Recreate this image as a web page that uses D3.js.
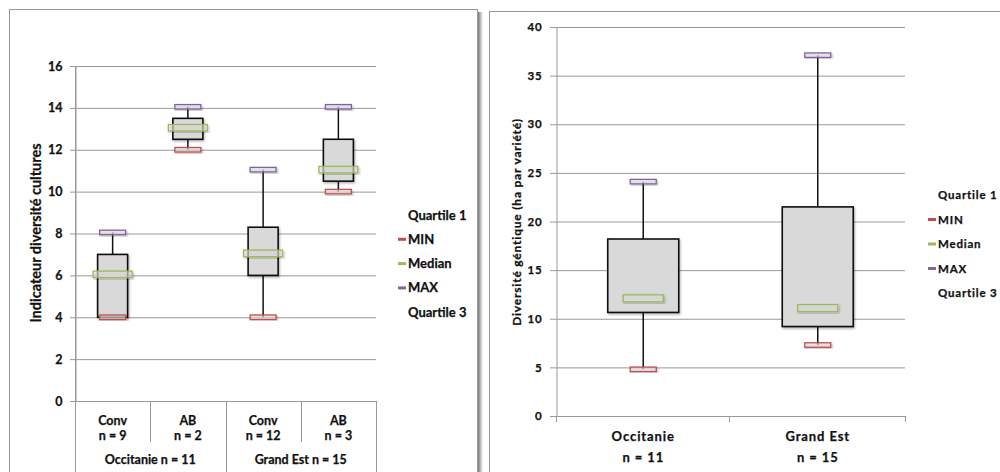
<!DOCTYPE html>
<html><head><meta charset="utf-8">
<script src="https://cdn.jsdelivr.net/npm/d3@7"></script>
<style>
body{margin:0;background:#fff;}
svg{display:block;}
text{font-family:Lato,"Open Sans",sans-serif;font-weight:bold;fill:#111;stroke:#111;stroke-width:0.25px;}
</style></head>
<body>
<svg id="c" width="1000" height="472"></svg>
<script>
// ---------- Data: left chart ----------
const leftCategories = ["Conv", "AB", "Conv", "AB"];
const leftCounts = ["n = 9", "n = 2", "n = 12", "n = 3"];
const leftGroups = ["Occitanie n = 11", "Grand Est n = 15"];
const leftMin = [4, 12, 4, 10];
const leftQ1 = [4, 12.5, 6, 10.5];
const leftMedian = [6.05, 13.05, 7.05, 11.05];
const leftQ3 = [7, 13.5, 8.3, 12.5];
const leftMax = [8.05, 14.05, 11.05, 14.05];
const leftTicks = [0, 2, 4, 6, 8, 10, 12, 14, 16];
const leftTitle = "Indicateur diversité cultures";

// ---------- Data: right chart ----------
const rightCategories = ["Occitanie", "Grand Est"];
const rightCounts = ["n = 11", "n = 15"];
const rightMin = [4.8, 7.3];
const rightQ1 = [10.65, 9.2];
const rightMedian = [12.1, 11.1];
const rightQ3 = [18.2, 21.5];
const rightMax = [24.1, 37.1];
const rightTicks = [0, 5, 10, 15, 20, 25, 30, 35, 40];
const rightTitle = "Diversité géntique (ha par variété)";

const legendLabels = ["Quartile 1", "MIN", "Median", "MAX", "Quartile 3"];
const legendColors = [null, "#c0504d", "#9bbb59", "#8064a2", null];

const svg = d3.select("#c");
const defs = svg.append("defs");
const f = defs.append("filter").attr("id", "sh").attr("x", "-30%").attr("y", "-30%").attr("width", "160%").attr("height", "160%");
f.append("feDropShadow").attr("dx", 1).attr("dy", 1.5).attr("stdDeviation", 1.2).attr("flood-color", "#000").attr("flood-opacity", 0.3);
const g1 = defs.append("linearGradient").attr("id", "pshadow").attr("x1", 0).attr("x2", 1);
g1.append("stop").attr("offset", 0).attr("stop-color", "#777");
g1.append("stop").attr("offset", 1).attr("stop-color", "#fff");

// panels
svg.append("rect").attr("x", 478).attr("y", 12).attr("width", 5).attr("height", 470).attr("fill", "url(#pshadow)");
svg.append("rect").attr("x", 9.5).attr("y", 9.5).attr("width", 468).attr("height", 475).attr("fill", "#fff").attr("stroke", "#999");
svg.append("rect").attr("x", 489.5).attr("y", 11.5).attr("width", 520).attr("height", 475).attr("fill", "#fff").attr("stroke", "#999");

function drawBoxes(g, x, y, cats, mins, q1, med, q3, maxs, boxW, medW, mkW, medH, mkH) {
  const cx = i => x(i) + x.bandwidth() / 2;
  const idx = d3.range(cats.length);
  g.selectAll(".wl").data(idx).join("line")
    .attr("x1", cx).attr("x2", cx).attr("y1", i => y(mins[i])).attr("y2", i => y(q1[i]))
    .attr("stroke", "#111").attr("stroke-width", 1.5);
  g.selectAll(".wh").data(idx).join("line")
    .attr("x1", cx).attr("x2", cx).attr("y1", i => y(q3[i])).attr("y2", i => y(maxs[i]))
    .attr("stroke", "#111").attr("stroke-width", 1.5);
  g.selectAll(".bx").data(idx).join("rect")
    .attr("x", i => cx(i) - boxW / 2).attr("width", boxW)
    .attr("y", i => y(q3[i])).attr("height", i => y(q1[i]) - y(q3[i]))
    .attr("fill", "#d9d9d9").attr("stroke", "#111").attr("stroke-width", 1.6)
    .attr("filter", "url(#sh)");
  const marker = (vals, w, h, col) => {
    g.append("g").selectAll("rect").data(idx).join("rect")
      .attr("x", i => cx(i) - w / 2).attr("width", w)
      .attr("y", i => y(vals[i]) - h / 2).attr("height", h)
      .attr("fill", "rgba(225,225,225,0.6)").attr("stroke", col).attr("stroke-width", 1.3)
      .attr("filter", "url(#sh)");
  };
  marker(mins, mkW, mkH, "#c0504d");
  marker(med, medW, medH, "#9bbb59");
  marker(maxs, mkW, mkH, "#8064a2");
}

function legend(g, x0, y0, dy, fs, ls) {
  legendLabels.forEach((l, i) => {
    const yy = y0 + i * dy;
    g.append("text").attr("x", x0).attr("y", yy).attr("dy", "0.35em")
      .attr("font-size", fs).attr("letter-spacing", ls).text(l);
    if (legendColors[i]) {
      g.append("line").attr("x1", x0 - 10).attr("x2", x0 - 2).attr("y1", yy).attr("y2", yy)
        .attr("stroke", legendColors[i]).attr("stroke-width", 3);
    }
  });
}

// ---------- Left chart ----------
{
  const g = svg.append("g");
  const x = d3.scaleBand().domain(d3.range(leftCategories.length)).range([75, 376]).padding(0);
  const y = d3.scaleLinear().domain([0, 16]).range([401, 66]);
  g.selectAll(".gr").data(leftTicks).join("line")
    .attr("x1", 70).attr("x2", 376).attr("y1", d => y(d) + 0.5).attr("y2", d => y(d) + 0.5)
    .attr("stroke", "#999").attr("stroke-width", 1);
  const ax = g.append("g").attr("transform", "translate(75.5,0)")
    .call(d3.axisLeft(y).tickValues(leftTicks).tickSize(0).tickPadding(13));
  ax.select(".domain").attr("stroke", "#999");
  ax.selectAll("text").attr("font-size", 12.5).attr("font-family", "Lato").attr("font-weight", "bold").attr("fill", "#111");
  g.append("line").attr("x1", 75.5).attr("x2", 75.5).attr("y1", 66).attr("y2", 472).attr("stroke", "#999");
  const seps = d3.range(leftCategories.length + 1);
  g.selectAll(".sep").data(seps).join("line")
    .attr("x1", i => Math.round(i < leftCategories.length ? x(i) : 376) + 0.5)
    .attr("x2", i => Math.round(i < leftCategories.length ? x(i) : 376) + 0.5)
    .attr("y1", 401).attr("y2", i => (i % 2 === 0 ? 472 : 442))
    .attr("stroke", "#999");
  leftCategories.forEach((c, i) => {
    const cx = x(i) + x.bandwidth() / 2;
    g.append("text").attr("x", cx).attr("y", 421).attr("dy", "0.35em").attr("text-anchor", "middle").attr("font-size", 12.5).text(c);
    g.append("text").attr("x", cx).attr("y", 436).attr("dy", "0.35em").attr("text-anchor", "middle").attr("font-size", 12.5).text(leftCounts[i]);
  });
  leftGroups.forEach((t, k) => {
    const cx = (x(k * 2) + x(k * 2 + 1) + x.bandwidth()) / 2;
    g.append("text").attr("x", cx).attr("y", 460).attr("dy", "0.35em").attr("text-anchor", "middle").attr("font-size", 12.5).text(t);
  });
  g.append("text").attr("transform", "translate(36,233) rotate(-90)").attr("text-anchor", "middle")
    .attr("dy", "0.35em").attr("font-size", 14.5).text(leftTitle);
  drawBoxes(g, x, y, leftCategories, leftMin, leftQ1, leftMedian, leftQ3, leftMax, 30, 39, 26, 6.5, 4.5);
  legend(g, 408, 215, 24.3, 13, 0);
}

// ---------- Right chart ----------
{
  const g = svg.append("g");
  const x = d3.scaleBand().domain(d3.range(rightCategories.length)).range([556, 905]).padding(0);
  const y = d3.scaleLinear().domain([0, 40]).range([416, 27]);
  g.selectAll(".gr").data(rightTicks).join("line")
    .attr("x1", 550).attr("x2", 905).attr("y1", d => y(d) + 0.5).attr("y2", d => y(d) + 0.5)
    .attr("stroke", "#999").attr("stroke-width", 1);
  const ax = g.append("g").attr("transform", "translate(556.5,0)")
    .call(d3.axisLeft(y).tickValues(rightTicks).tickSize(0).tickPadding(14));
  ax.select(".domain").attr("stroke", "#999");
  ax.selectAll("text").attr("font-size", 11.5).attr("font-family", "Lato").attr("font-weight", "bold").attr("fill", "#111").attr("letter-spacing", 0.8);
  [556, 729, 905].forEach(v => {
    g.append("line").attr("x1", v + 0.5).attr("x2", v + 0.5).attr("y1", 416).attr("y2", 422).attr("stroke", "#999");
  });
  rightCategories.forEach((c, i) => {
    const cx = x(i) + x.bandwidth() / 2;
    g.append("text").attr("x", cx).attr("y", 436).attr("dy", "0.35em").attr("text-anchor", "middle").attr("font-size", 13).attr("letter-spacing", 0.9).text(c);
    g.append("text").attr("x", cx).attr("y", 457).attr("dy", "0.35em").attr("text-anchor", "middle").attr("font-size", 13).attr("letter-spacing", 0.9).text(rightCounts[i]);
  });
  g.append("text").attr("transform", "translate(517,222) rotate(-90)").attr("text-anchor", "middle")
    .attr("dy", "0.35em").attr("font-size", 12).attr("letter-spacing", 0.8).text(rightTitle);
  drawBoxes(g, x, y, rightCategories, rightMin, rightQ1, rightMedian, rightQ3, rightMax, 71, 40, 26, 7, 4.5);
  legend(g, 938, 195, 24.5, 11.5, 0.8);
}
</script>
</body></html>
